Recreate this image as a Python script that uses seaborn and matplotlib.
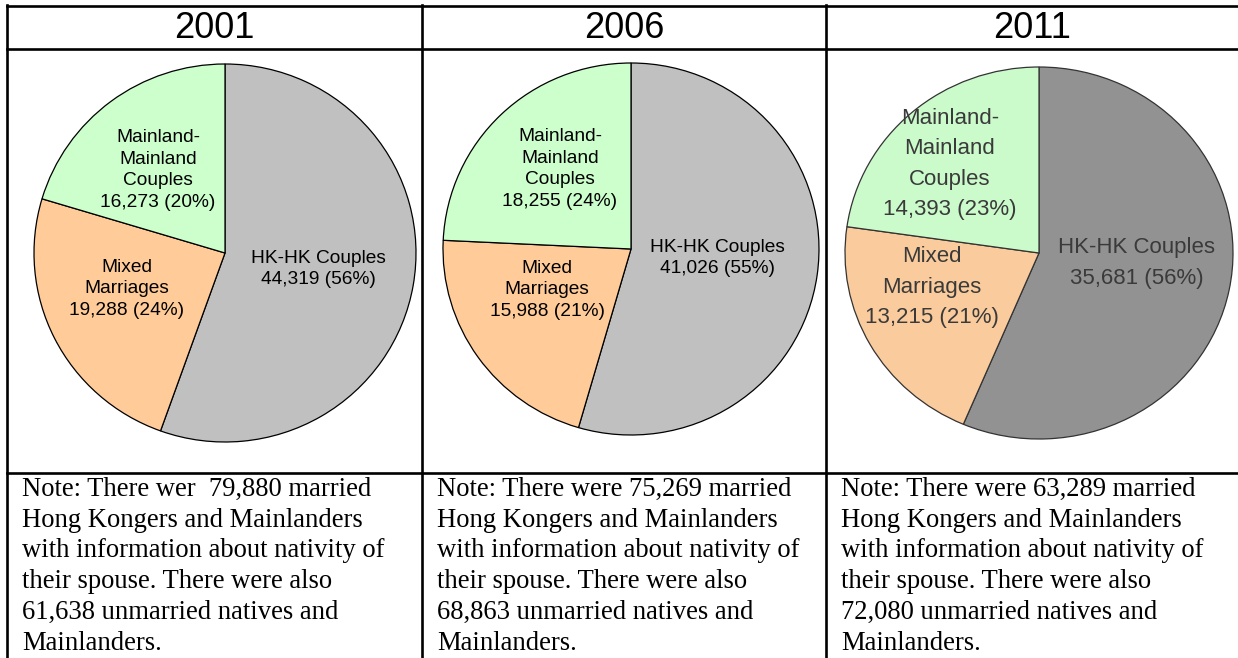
import matplotlib
matplotlib.use("Agg")
import matplotlib.pyplot as plt
from matplotlib.lines import Line2D
import seaborn as sns

# Data
years = ["2001", "2006", "2011"]
categories = ["HK-HK Couples", "Mixed\nMarriages", "Mainland-\nMainland\nCouples"]
hk_hk = [44319, 41026, 35681]
mixed = [19288, 15988, 13215]
mainland = [16273, 18255, 14393]
hk_pct = [56, 55, 56]
mixed_pct = [24, 21, 21]
mainland_pct = [20, 24, 23]
married_total = [79880, 75269, 63289]
unmarried_total = [61638, 68863, 72080]
note_verb = ["wer ", "were", "were"]

sns.set_theme(style="white")
plt.rcParams["font.family"] = ["Liberation Sans", "DejaVu Sans"]

W, H = 1238, 658
fig = plt.figure(figsize=(W / 100, H / 100), dpi=100)
fig.patch.set_facecolor("white")


def fx(x):
    return x / W


def fy(y):
    return 1 - y / H


# table grid
lw = 1.9
grid = [
    ((7, 6), (1238, 6)),
    ((7, 49), (1238, 49)),
    ((7, 473), (1238, 473)),
    ((7, 5), (7, 658)),
    ((422, 5), (422, 658)),
    ((826, 5), (826, 658)),
]
for (x0, y0), (x1, y1) in grid:
    fig.add_artist(Line2D([fx(x0), fx(x1)], [fy(y0), fy(y1)], transform=fig.transFigure,
                          color="black", linewidth=lw, solid_capstyle="projecting"))

col_left = [7, 422, 826]
col_right = [422, 826, 1238]

# pie geometry (pixels): centre x, centre y, radius x, radius y
pie_box = [(225, 253, 191, 189), (631, 249, 188, 186), (1039, 253, 194, 186)]
label_pos = [
    [(318, 269), (127, 289), (158, 170)],
    [(717, 258), (547, 290), (560, 169)],
    [(1137, 263), (932, 287), (950, 164)],
]
styles = [
    dict(colors=["#C0C0C0", "#FFCC99", "#CCFFCC"], edge="black", text="black", size=13.8, ls=1.38),
    dict(colors=["#C0C0C0", "#FFCC99", "#CCFFCC"], edge="black", text="black", size=13.8, ls=1.38),
    dict(colors=["#929292", "#FACB9C", "#CBFACB"], edge="#333333", text="#3a3a3a", size=16, ls=1.6),
]

for i, year in enumerate(years):
    # header
    fig.text(fx((col_left[i] + col_right[i]) / 2), fy(28), year, ha="center", va="center",
             fontsize=26, color="black")

    cx, cy, rx, ry = pie_box[i]
    ax = fig.add_axes([fx(cx - rx), fy(cy + ry), 2 * rx / W, 2 * ry / H])
    vals = [hk_hk[i], mixed[i], mainland[i]]
    pcts = [hk_pct[i], mixed_pct[i], mainland_pct[i]]
    st = styles[i]
    wedges, _ = ax.pie(vals, colors=st["colors"], startangle=90, counterclock=False, radius=1,
                       wedgeprops=dict(edgecolor=st["edge"], linewidth=0.9))
    for w in wedges:
        w.set_clip_on(False)
    ax.set_xlim(-1, 1)
    ax.set_ylim(-1, 1)
    ax.set_aspect("auto")
    ax.axis("off")

    for j, cat in enumerate(categories):
        lx, ly = label_pos[i][j]
        txt = f"{cat}\n{vals[j]:,} ({pcts[j]}%)"
        ax.text((lx - cx) / rx, -(ly - cy) / ry, txt, ha="center", va="center",
                multialignment="center", fontsize=st["size"], color=st["text"],
                linespacing=st["ls"])

    # note
    note = (f"Note: There {note_verb[i]} {married_total[i]:,} married\n"
            "Hong Kongers and Mainlanders\n"
            "with information about nativity of\n"
            "their spouse. There were also\n"
            f"{unmarried_total[i]:,} unmarried natives and\n"
            "Mainlanders.")
    fig.text(fx(col_left[i] + 15), fy(477), note, ha="left", va="top", fontsize=19.2,
             family=["Liberation Serif", "DejaVu Serif"], color="black", linespacing=1.3)

fig.savefig("out.png", dpi=100, facecolor="white")
